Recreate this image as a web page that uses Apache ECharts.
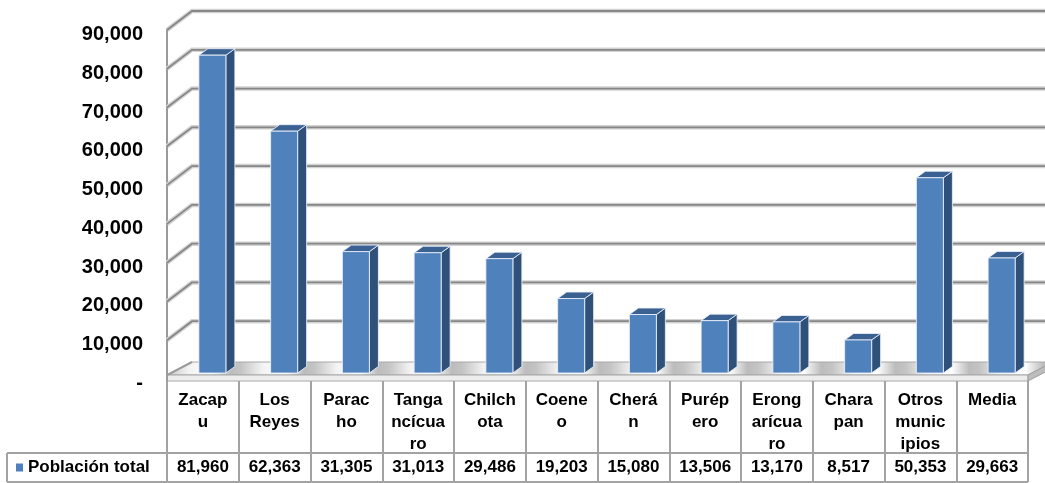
<!DOCTYPE html>
<html>
<head>
<meta charset="utf-8">
<script src="https://cdn.jsdelivr.net/npm/echarts@6/dist/echarts.min.js"></script>
<style>
html,body{margin:0;padding:0;background:#fff;}
#chart{width:1045px;height:483px;}
</style>
</head>
<body>
<div id="chart"></div>
<script>
const seriesName = 'Población total';
const categories = ['Zacapu','Los Reyes','Paracho','Tangancícuaro','Chilchota','Coeneo','Cherán','Purépero','Erongarícuaro','Charapan','Otros municipios','Media'];
const tickLabels = ['Zacap\nu','Los\nReyes','Parac\nho','Tanga\nncícua\nro','Chilch\nota','Coene\no','Cherá\nn','Purép\nero','Erong\narícua\nro','Chara\npan','Otros\nmunic\nipios','Media'];
const values = [81960,62363,31305,31013,29486,19203,15080,13506,13170,8517,50353,29663];
const yTicks = [0,10000,20000,30000,40000,50000,60000,70000,80000,90000];

const DX = 25, DY = 19;
const fmt = v => v.toLocaleString('en-US');
const FONT = 'Liberation Sans, Arial, sans-serif';

function floorGradient(n) {
  const pattern = [[0, '#c4c4c4'], [0.3, '#f3f3f3'], [0.62, '#ffffff'], [0.86, '#bcbcbc']];
  const stops = [];
  for (let k = 0; k < n; k++) {
    pattern.forEach(p => stops.push({offset: (k + p[0]) / n, color: p[1]}));
  }
  stops.push({offset: 1, color: '#c4c4c4'});
  return new echarts.graphic.LinearGradient(0, 0, 1, 0, stops);
}

function renderWall(params, api) {
  const v = api.value(1);
  const cs = params.coordSys;
  const y = api.coord([0, v])[1];
  const x0 = cs.x, x1 = cs.x + cs.width;
  const W = api.getWidth();
  if (v === 0) {
    const ft = y - 4, fb = y + 2, bk = y - 17;
    return {type: 'group', children: [
      {type: 'polygon', shape: {points: [[x0, ft], [x1, ft], [x1 + DX, bk], [x0 + DX, bk]]},
        style: {fill: floorGradient(categories.length), stroke: '#a8a8a8', lineWidth: 1}},
      {type: 'rect', shape: {x: x0, y: ft, width: x1 - x0, height: fb - ft},
        style: {fill: '#ededed', stroke: '#a8a8a8', lineWidth: 1}},
      {type: 'polygon', shape: {points: [[x1, ft], [x1 + DX, bk], [x1 + DX, bk + 6], [x1, fb]]},
        style: {fill: '#bdbdbd', stroke: '#a0a0a0', lineWidth: 1}},
      {type: 'polyline', shape: {points: [[x0, fb], [x0, ft], [x0 + DX, bk]]}, style: {stroke: '#9a9a9a', lineWidth: 2, fill: null}}
    ]};
  }
  const pts = [[x0, y], [x0 + DX, y - DY], [W, y - DY]];
  return {type: 'group', children: [
    {type: 'polyline', shape: {points: pts}, style: {stroke: '#d2d2d2', lineWidth: 4.5, fill: null}},
    {type: 'polyline', shape: {points: pts}, style: {stroke: '#878787', lineWidth: 1.8, fill: null}}
  ]};
}

function renderBar(params, api) {
  const i = api.value(0);
  const v = api.value(1);
  const c0 = api.coord([i, 0]);
  const c1 = api.coord([i, v]);
  const w = 27, sx = 9.5, sy = 6, dx = 9, dy = 6.5;
  const l = c0[0] - w / 2 + sx, r = l + w;
  const top = c1[1] - sy, bot = c0[1] - sy;
  const edge = 'rgba(235,241,250,0.85)';
  return {type: 'group', children: [
    {type: 'polygon', shape: {points: [[r, top], [r + dx, top - dy], [r + dx, bot - dy], [r, bot]]},
      style: {fill: '#2f5078', stroke: edge, lineWidth: 1}},
    {type: 'polygon', shape: {points: [[l, top], [l + dx, top - dy], [r + dx, top - dy], [r, top]]},
      style: {fill: '#3a6192', stroke: edge, lineWidth: 1}},
    {type: 'rect', shape: {x: l, y: top, width: w, height: bot - top},
      style: {fill: '#4f81bd', stroke: edge, lineWidth: 1}}
  ]};
}

const chart = echarts.init(document.getElementById('chart'));
const gray = '#a3a3a3';
chart.setOption({
  animation: false,
  backgroundColor: '#fff',
  textStyle: {fontFamily: FONT},
  grid: {left: 167, right: 17, top: 30, bottom: 104, containLabel: false},
  legend: {
    left: 16, top: 459, padding: 0, itemWidth: 7, itemHeight: 8, icon: 'rect',
    textStyle: {fontFamily: FONT, fontWeight: 'bold', fontSize: 17, color: '#000'},
    itemGap: 5, data: [seriesName], selectedMode: false
  },
  xAxis: [
    {type: 'category', data: tickLabels, position: 'bottom', boundaryGap: true,
      axisLine: {show: true, lineStyle: {color: gray, width: 2}},
      axisTick: {show: true, length: 103, interval: 0, lineStyle: {color: gray, width: 2}},
      axisLabel: {interval: 0, margin: 10, fontFamily: FONT, fontWeight: 'bold', fontSize: 17, lineHeight: 22, color: '#000'},
      splitLine: {show: false}},
    {type: 'category', data: categories, position: 'bottom', offset: 74, boundaryGap: true,
      axisLine: {show: true, lineStyle: {color: gray, width: 2}},
      axisTick: {show: false},
      axisLabel: {interval: 0, margin: 3, fontFamily: FONT, fontWeight: 'bold', fontSize: 17, lineHeight: 22, color: '#000',
        formatter: (val, idx) => fmt(values[idx])},
      splitLine: {show: false}}
  ],
  yAxis: {type: 'value', min: 0, max: 90000, interval: 10000,
    axisLine: {show: true, lineStyle: {color: '#9a9a9a', width: 2}},
    axisTick: {show: false},
    splitLine: {show: false},
    axisLabel: {margin: 24, fontFamily: FONT, fontWeight: 'bold', fontSize: 20, color: '#000',
      formatter: v => '{a|' + (v === 0 ? '-' : fmt(v)) + '}',
      rich: {a: {fontFamily: FONT, fontWeight: 'bold', fontSize: 20, color: '#000', padding: [9, 0, 0, 0]}}}},
  graphic: [
    {type: 'line', shape: {x1: 7, y1: 453, x2: 167, y2: 453}, style: {stroke: gray, lineWidth: 2}},
    {type: 'line', shape: {x1: 7, y1: 453, x2: 7, y2: 482}, style: {stroke: gray, lineWidth: 2}},
    {type: 'line', shape: {x1: 7, y1: 482, x2: 1028, y2: 482}, style: {stroke: gray, lineWidth: 2}}
  ],
  series: [
    {type: 'custom', name: 'walls', xAxisIndex: 0, yAxisIndex: 0, z: 1, silent: true,
      renderItem: renderWall, data: yTicks.map(v => [0, v]), encode: {x: 0, y: 1}},
    {type: 'custom', name: seriesName, xAxisIndex: 0, yAxisIndex: 0, z: 3,
      itemStyle: {color: '#4f81bd'},
      renderItem: renderBar, data: values.map((v, i) => [i, v]), encode: {x: 0, y: 1}}
  ]
});
</script>
</body>
</html>
